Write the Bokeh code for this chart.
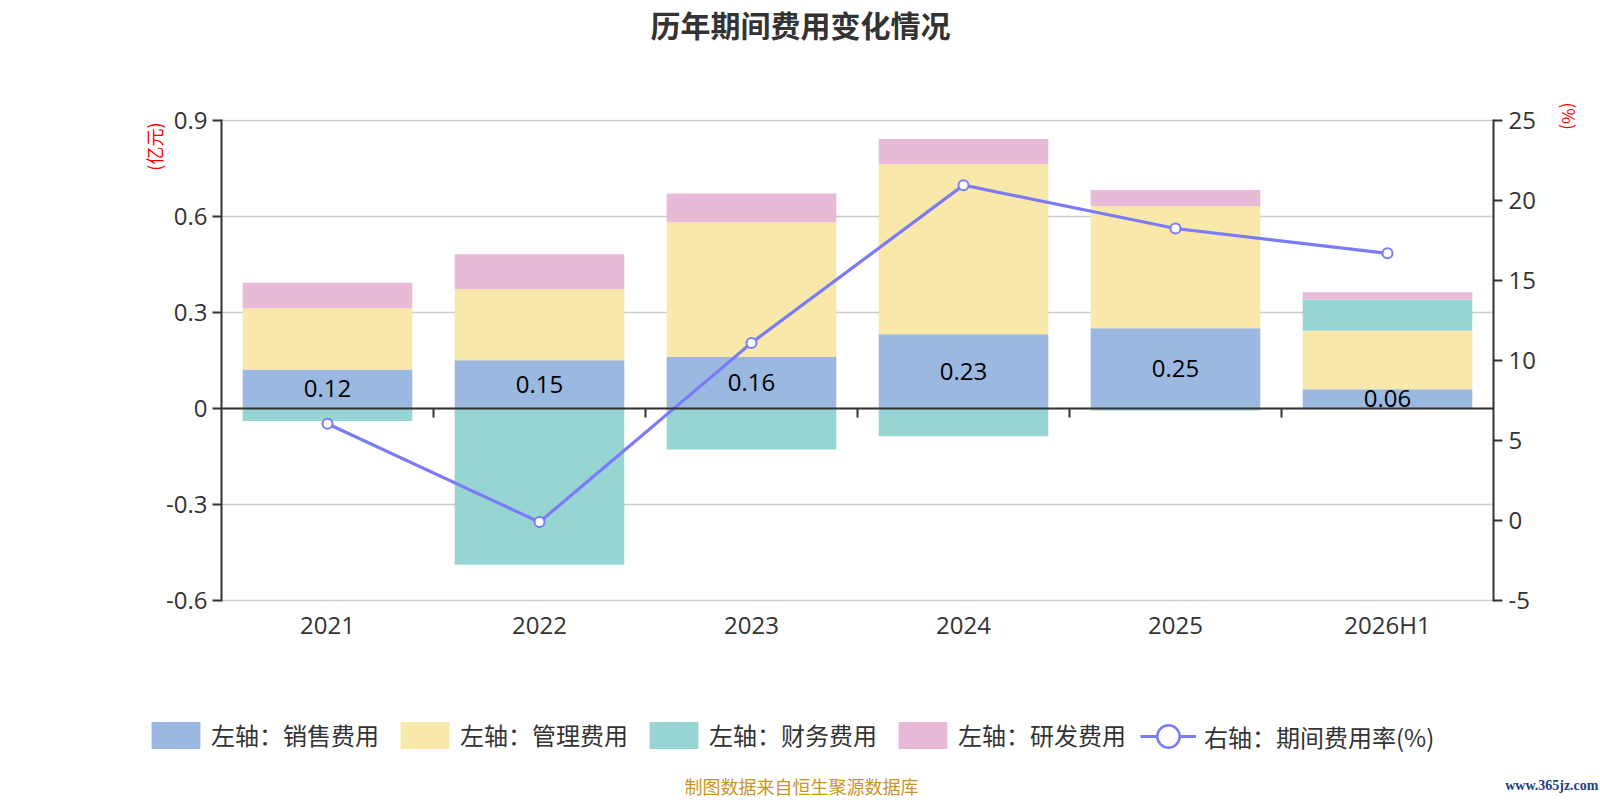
from bokeh.plotting import figure
from bokeh.models import (Range1d, LinearAxis, FixedTicker, ColumnDataSource, Label,
                          Legend, LegendItem, Span, Title)
from bokeh.embed import file_html
from bokeh.resources import INLINE
from bokeh.core.properties import value

# ---------------- data ----------------
categories = ["2021", "2022", "2023", "2024", "2025", "2026H1"]
sales = [0.122, 0.151, 0.161, 0.232, 0.251, 0.060]          # 销售费用
admin = [0.191, 0.222, 0.421, 0.531, 0.382, 0.183]          # 管理费用
finance = [-0.039, -0.488, -0.128, -0.087, -0.006, 0.098]   # 财务费用
rnd = [0.080, 0.109, 0.090, 0.079, 0.050, 0.022]            # 研发费用
rate = [6.05, -0.10, 11.10, 20.96, 18.25, 16.70]            # 期间费用率(%)
left_ticks = [-0.6, -0.3, 0, 0.3, 0.6, 0.9]
left_tick_labels = ["-0.6", "-0.3", "0", "0.3", "0.6", "0.9"]
right_ticks = [-5, 0, 5, 10, 15, 20, 25]
right_tick_labels = ["-5", "0", "5", "10", "15", "20", "25"]
series_names = ["左轴：销售费用", "左轴：管理费用", "左轴：财务费用", "左轴：研发费用"]
line_name = "右轴：期间费用率(%)"
title_text = "历年期间费用变化情况"
left_unit = "(亿元)"
right_unit = "(%)"
source_text = "制图数据来自恒生聚源数据库"
watermark = "www.365jz.com"

colors = ["#9BB8E0", "#F8E8AA", "#97D4D4", "#E8BAD8"]
line_color = "#7B7BF7"
CJK = "Noto Sans CJK SC"
NUM = "Open Sans"

n = len(categories)
xs = [i + 0.5 for i in range(n)]
series = [sales, admin, finance, rnd]

# stacking (positive values up, negative values down)
pos = [0.0] * n
neg = [0.0] * n
stacks = []
for vals in series:
    b, t = [], []
    for i, v in enumerate(vals):
        if v >= 0:
            b.append(pos[i]); t.append(pos[i] + v); pos[i] += v
        else:
            t.append(neg[i]); b.append(neg[i] + v); neg[i] += v
    stacks.append((b, t))

W = 1600
HEAD_H, MAIN_H, FOOT_H = 100, 580, 120


def strip(h):
    f = figure(width=W, height=h, x_range=Range1d(0, W), y_range=Range1d(0, h),
               output_backend="svg", toolbar_location=None,
               x_axis_type=None, y_axis_type=None,
               min_border_left=0, min_border_right=0, min_border_top=0, min_border_bottom=0)
    f.xgrid.visible = False
    f.ygrid.visible = False
    f.outline_line_color = None
    f.background_fill_color = "white"
    f.border_fill_color = "white"
    return f


# ---------------- header (page y 0..100) ----------------
head = strip(HEAD_H)
head.add_layout(Label(x=800, y=HEAD_H - 23, text=title_text, text_align="center",
                      text_baseline="middle", text_font=CJK, text_font_size="30px",
                      text_font_style="bold", text_color="#333333"))

# ---------------- main chart (page y 100..680) ----------------
FL, FW = 221, 1272
FT, FH = 19, 482            # 1px extra top/bottom so the edge grid lines show
ypx = 480 / (left_ticks[-1] - left_ticks[0])
rpx = 480 / (right_ticks[-1] - right_ticks[0])
p = figure(width=W, height=MAIN_H,
           x_range=Range1d(0, n),
           y_range=Range1d(left_ticks[0] - 1 / ypx, left_ticks[-1] + 1 / ypx),
           output_backend="svg", toolbar_location=None,
           min_border_left=FL, min_border_right=W - FL - FW,
           min_border_top=FT, min_border_bottom=MAIN_H - FT - FH)
p.outline_line_color = None
p.background_fill_color = "white"
p.border_fill_color = "white"
p.extra_y_ranges = {"rate": Range1d(right_ticks[0] - 1 / rpx, right_ticks[-1] + 1 / rpx)}

p.xgrid.visible = False
p.ygrid.ticker = FixedTicker(ticks=left_ticks)
p.ygrid.grid_line_color = "#cccccc"
p.ygrid.grid_line_width = 1.5

xa = p.xaxis[0]
xa.ticker = FixedTicker(ticks=xs)
xa.major_label_overrides = {x: c for x, c in zip(xs, categories)}
xa.axis_line_color = None
xa.major_tick_line_color = None
xa.minor_tick_line_color = None
xa.major_tick_out = 0
xa.major_tick_in = 0
xa.minor_tick_out = 0
xa.major_label_standoff = 6
xa.major_label_text_font = NUM
xa.major_label_text_font_size = "24px"
xa.major_label_text_color = "#333333"

ya = p.yaxis[0]
ya.ticker = FixedTicker(ticks=left_ticks)
ya.major_label_overrides = {t: s for t, s in zip(left_ticks, left_tick_labels)}
ra = LinearAxis(y_range_name="rate", ticker=FixedTicker(ticks=right_ticks))
ra.major_label_overrides = {t: s for t, s in zip(right_ticks, right_tick_labels)}
p.add_layout(ra, "right")
for ax, so in ((ya, 5), (ra, 6)):
    ax.axis_line_color = "#333333"
    ax.axis_line_width = 2
    ax.major_tick_line_color = "#333333"
    ax.major_tick_line_width = 2
    ax.major_tick_out = 9
    ax.major_tick_in = 0
    ax.minor_tick_line_color = None
    ax.minor_tick_out = 0
    ax.major_label_standoff = so
    ax.major_label_text_font = NUM
    ax.major_label_text_font_size = "24px"
    ax.major_label_text_color = "#333333"

# unit names as side-panel titles
lt = Title(text=left_unit, align="right", offset=3, standoff=0, vertical_align="bottom",
           text_font=CJK, text_font_size="18px", text_font_style="normal", text_color="#FF0000")
try:
    lt.standoff = -6
except Exception:
    pass
p.add_layout(lt, "left")
p.add_layout(Title(text=right_unit, align="left", offset=-17, standoff=32, vertical_align="top",
                   text_font=CJK, text_font_size="17px", text_font_style="normal",
                   text_color="#FF0000"), "right")

# stacked bars
for (b, t), c in zip(stacks, colors):
    src = ColumnDataSource(dict(x=xs, bottom=b, top=t))
    p.vbar(x="x", width=0.8, bottom="bottom", top="top", source=src,
           fill_color=c, line_color=None)

# zero line with category boundary ticks
p.add_layout(Span(location=0, dimension="width", line_color="#333333", line_width=2))
bx = list(range(1, n))
p.segment(x0=bx, y0=[0] * len(bx), x1=bx, y1=[-9 / ypx] * len(bx),
          line_color="#333333", line_width=2)

# sales value labels
lab_src = ColumnDataSource(dict(x=xs, y=[v / 2 for v in sales], t=["%.2f" % v for v in sales]))
p.text(x="x", y="y", text="t", source=lab_src, text_align="center", text_baseline="middle",
       text_font=value(NUM), text_font_size="24px", text_color="#000000")

# rate line
p.line(x=xs, y=rate, y_range_name="rate", line_color=line_color, line_width=3.2)
p.scatter(x=xs, y=rate, y_range_name="rate", size=10, marker="circle",
          fill_color="white", line_color=line_color, line_width=2)

# ---------------- footer: legend + source (page y 680..800) ----------------
foot = strip(FOOT_H)
# hidden proxies of the series, used only to draw the legend keys
proxy_bars = [foot.vbar(x=xs, top=vals, width=0.8, fill_color=c, line_color=None, visible=False)
              for vals, c in zip(series, colors)]
proxy_line = foot.line(x=xs, y=rate, line_color=line_color, line_width=3, visible=False)
proxy_pts = foot.scatter(x=xs, y=rate, marker="circle", size=10, fill_color="white",
                         line_color=line_color, line_width=2.5, visible=False)

common = dict(orientation="horizontal", padding=0, margin=0, border_line_color=None,
              background_fill_alpha=0, inactive_fill_alpha=0,
              label_text_font=CJK, label_text_font_size="24px",
              label_text_color="#333333", label_text_baseline="middle")
legend1 = Legend(items=[LegendItem(label=nm, renderers=[r]) for nm, r in zip(series_names, proxy_bars)],
                 location=(145, 800 - 752), glyph_width=61, glyph_height=34, label_height=34,
                 label_standoff=5, spacing=15, **common)
legend2 = Legend(items=[LegendItem(label=line_name, renderers=[proxy_line, proxy_pts])],
                 location=(1140, 800 - 767), glyph_width=56, glyph_height=62, label_height=62,
                 label_standoff=8, spacing=0, **common)
foot.add_layout(legend1)
foot.add_layout(legend2)

foot.add_layout(Label(x=801, y=800 - 785, text=source_text, text_align="center",
                      text_baseline="middle", text_font=CJK, text_font_size="18px",
                      text_color="#C8961E"))
foot.add_layout(Label(x=1598, y=800 - 785, text=watermark, text_align="right",
                      text_baseline="middle", text_font="Liberation Serif", text_font_size="14px",
                      text_font_style="bold", text_color="#1F3F7F"))

open("out.html", "w").write(file_html([head, p, foot], INLINE))
